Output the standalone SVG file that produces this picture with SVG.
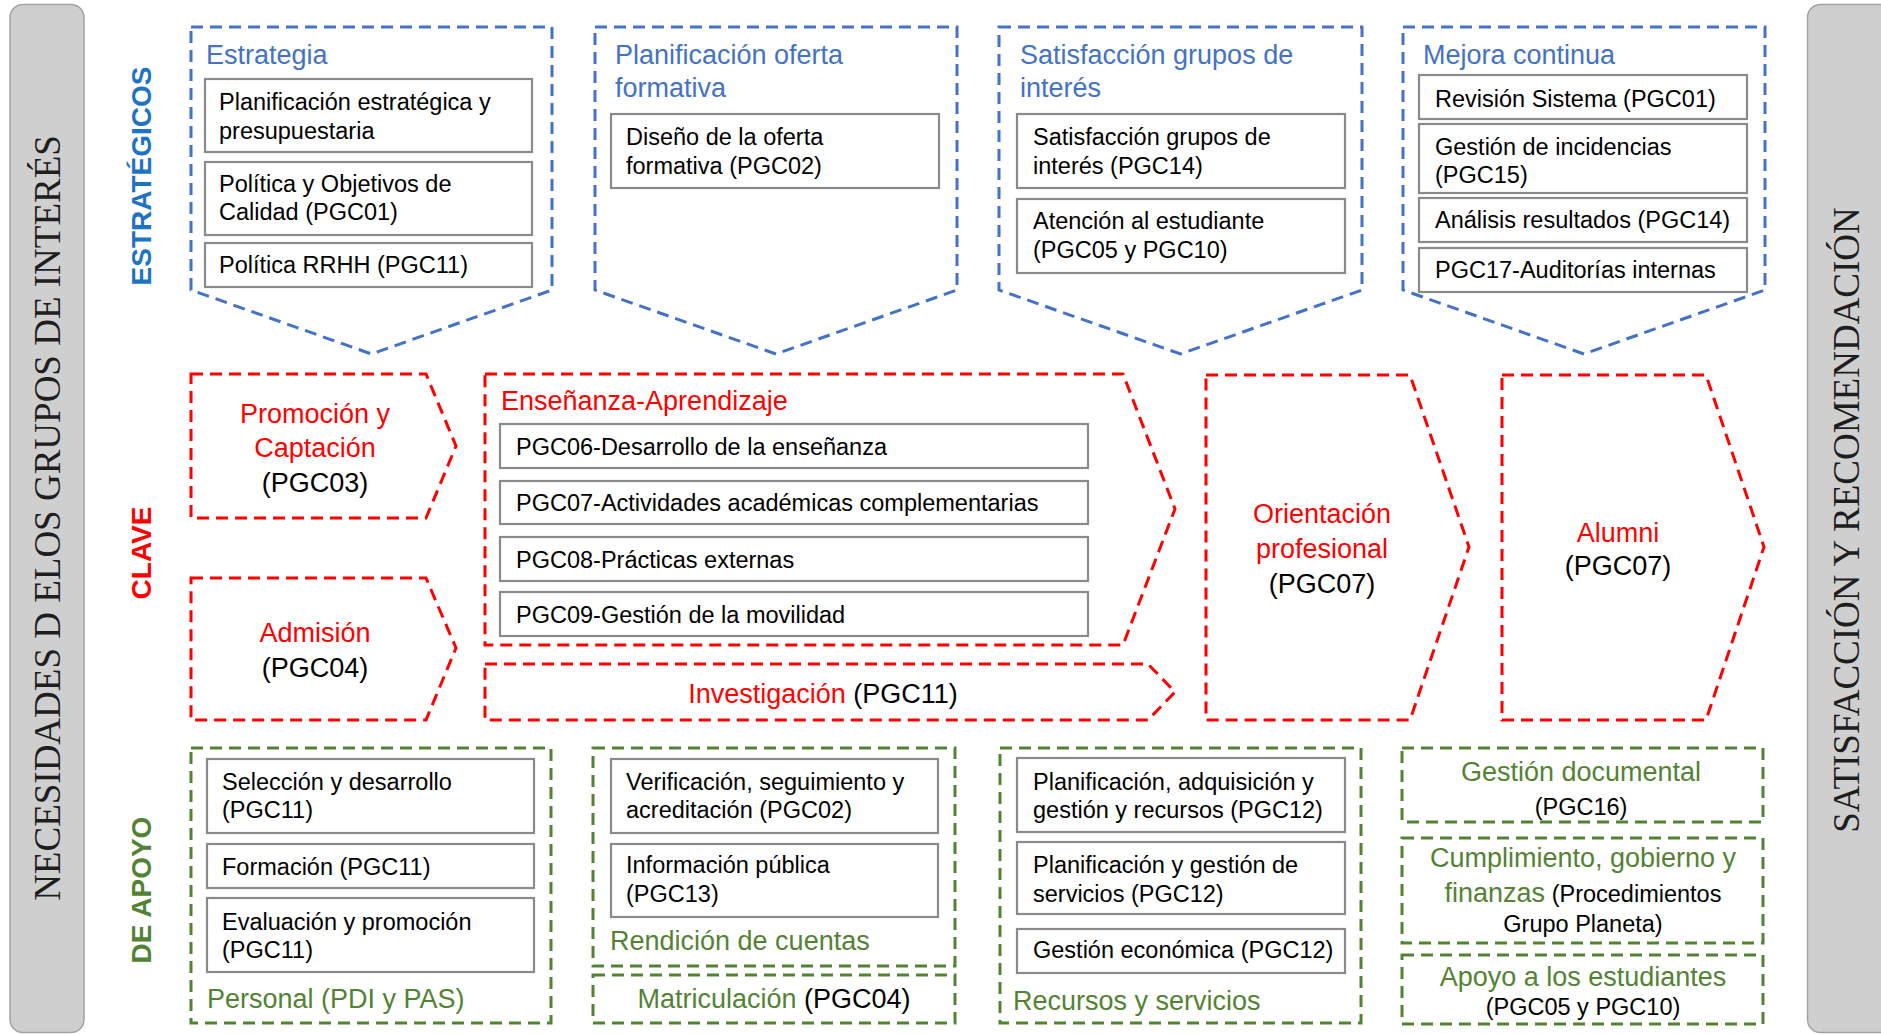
<svg xmlns="http://www.w3.org/2000/svg" width="1881" height="1034" viewBox="0 0 1881 1034">
<style>
text{font-family:"Liberation Sans",Arial,sans-serif;fill:#000}
.t{font-size:23.5px}
.h{font-size:27px}
.s{font-size:23.5px}
.mid{text-anchor:middle}
.blue{fill:#4472C4}
.red{fill:#FF0000}
.green{fill:#548235}
.blk{fill:#000}
.bd{fill:#fff;stroke:#4472C4;stroke-width:3;stroke-dasharray:12 7}
.rd{fill:#fff;stroke:#FF0000;stroke-width:3;stroke-dasharray:12 7}
.gd{fill:#fff;stroke:#548235;stroke-width:3;stroke-dasharray:12 7}
.ib{fill:#fff;stroke:#8A8A8A;stroke-width:2.2}
.bar{fill:#CFCFCF;stroke:#A3A3A3;stroke-width:1.5}
.serif{font-family:"Liberation Serif","Times New Roman",serif;font-size:37px;fill:#1E1E1E;text-anchor:middle}
.lab{font-family:"Liberation Sans",Arial,sans-serif;font-weight:bold;font-size:28px;text-anchor:middle}
</style>
<rect width="1881" height="1034" fill="#fff"/>

<g id="bar-left">
<rect class="bar" x="10" y="4.5" width="74" height="1028" rx="13"/>
<text class="serif" transform="translate(60,518) rotate(-90)">NECESIDADES D ELOS GRUPOS DE INTERÉS</text>
</g>
<g id="bar-right">
<rect class="bar" x="1807.5" y="4.5" width="90" height="1028" rx="13"/>
<text class="serif" transform="translate(1859,520) rotate(-90)">SATISFACCIÓN Y RECOMENDACIÓN</text>
</g>

<g id="row-labels">
<text class="lab" fill="#1F73C4" style="fill:#1F73C4" transform="translate(151,176) rotate(-90)">ESTRATÉGICOS</text>
<text class="lab" style="fill:#FF0000" transform="translate(151,553) rotate(-90)">CLAVE</text>
<text class="lab" style="fill:#548235" transform="translate(151,890) rotate(-90)">DE APOYO</text>
</g>

<g id="estrategia">
<path class="bd" d="M191,27 H552 V290 L371.5,354 L191,290 Z"/>
<text class="h blue" x="206" y="64">Estrategia</text>
<rect class="ib" x="205" y="79" width="327" height="73"/>
<text class="t" x="219" y="110">Planificación estratégica y</text>
<text class="t" x="219" y="139">presupuestaria</text>
<rect class="ib" x="205" y="162" width="327" height="73"/>
<text class="t" x="219" y="192">Política y Objetivos de</text>
<text class="t" x="219" y="220">Calidad (PGC01)</text>
<rect class="ib" x="205" y="243" width="327" height="44"/>
<text class="t" x="219" y="273">Política RRHH (PGC11)</text>
</g>

<g id="planificacion-oferta">
<path class="bd" d="M595,27 H957 V290 L776,354 L595,290 Z"/>
<text class="h blue" x="615" y="64">Planificación oferta</text>
<text class="h blue" x="615" y="97">formativa</text>
<rect class="ib" x="611" y="114" width="328" height="74"/>
<text class="t" x="626" y="145">Diseño de la oferta</text>
<text class="t" x="626" y="174">formativa (PGC02)</text>
</g>

<g id="satisfaccion">
<path class="bd" d="M999,27 H1362 V290 L1180.5,354 L999,290 Z"/>
<text class="h blue" x="1020" y="64">Satisfacción grupos de</text>
<text class="h blue" x="1020" y="97">interés</text>
<rect class="ib" x="1017" y="114" width="328" height="74"/>
<text class="t" x="1033" y="145">Satisfacción grupos de</text>
<text class="t" x="1033" y="174">interés (PGC14)</text>
<rect class="ib" x="1017" y="199" width="328" height="74"/>
<text class="t" x="1033" y="229">Atención al estudiante</text>
<text class="t" x="1033" y="258">(PGC05 y PGC10)</text>
</g>

<g id="mejora-continua">
<path class="bd" d="M1403,27 H1765 V290 L1584,354 L1403,290 Z"/>
<text class="h blue" x="1423" y="64">Mejora continua</text>
<rect class="ib" x="1419" y="75" width="328" height="44"/>
<text class="t" x="1435" y="107">Revisión Sistema (PGC01)</text>
<rect class="ib" x="1419" y="124" width="328" height="69"/>
<text class="t" x="1435" y="155">Gestión de incidencias</text>
<text class="t" x="1435" y="183">(PGC15)</text>
<rect class="ib" x="1419" y="198" width="328" height="44"/>
<text class="t" x="1435" y="228">Análisis resultados (PGC14)</text>
<rect class="ib" x="1419" y="248" width="328" height="44"/>
<text class="t" x="1435" y="278">PGC17-Auditorías internas</text>
</g>

<g id="promocion">
<path class="rd" d="M191,374 H426 L456,446 L426,518 H191 Z"/>
<text class="h red mid" x="315" y="423">Promoción y</text>
<text class="h red mid" x="315" y="457">Captación</text>
<text class="h mid" x="315" y="492">(PGC03)</text>
</g>

<g id="admision">
<path class="rd" d="M191,578 H426 L456,648 L426,720 H191 Z"/>
<text class="h red mid" x="315" y="642">Admisión</text>
<text class="h mid" x="315" y="677">(PGC04)</text>
</g>

<g id="ensenanza">
<path class="rd" d="M485,374 H1123 L1175,509 L1123,645 H485 Z"/>
<text class="h red" x="501" y="410">Enseñanza-Aprendizaje</text>
<rect class="ib" x="500" y="424" width="588" height="44"/>
<text class="t" x="516" y="455">PGC06-Desarrollo de la enseñanza</text>
<rect class="ib" x="500" y="481" width="588" height="43"/>
<text class="t" x="516" y="511">PGC07-Actividades académicas complementarias</text>
<rect class="ib" x="500" y="537" width="588" height="44"/>
<text class="t" x="516" y="568">PGC08-Prácticas externas</text>
<rect class="ib" x="500" y="592" width="588" height="44"/>
<text class="t" x="516" y="623">PGC09-Gestión de la movilidad</text>
</g>

<g id="investigacion">
<path class="rd" d="M485,664 H1148 L1175,692 L1148,720 H485 Z"/>
<text class="h mid" x="823" y="703"><tspan class="red">Investigación</tspan> (PGC11)</text>
</g>

<g id="orientacion">
<path class="rd" d="M1206,375 H1410 L1469,547 L1410,720 H1206 Z"/>
<text class="h red mid" x="1322" y="523">Orientación</text>
<text class="h red mid" x="1322" y="558">profesional</text>
<text class="h mid" x="1322" y="593">(PGC07)</text>
</g>

<g id="alumni">
<path class="rd" d="M1502,375 H1706 L1764,547 L1706,720 H1502 Z"/>
<text class="h red mid" x="1618" y="542">Alumni</text>
<text class="h mid" x="1618" y="575">(PGC07)</text>
</g>

<g id="personal">
<rect class="gd" x="191" y="748" width="360" height="275"/>
<rect class="ib" x="207" y="759" width="327" height="74"/>
<text class="t" x="222" y="790">Selección y desarrollo</text>
<text class="t" x="222" y="818">(PGC11)</text>
<rect class="ib" x="207" y="844" width="327" height="44"/>
<text class="t" x="222" y="875">Formación (PGC11)</text>
<rect class="ib" x="207" y="898" width="327" height="74"/>
<text class="t" x="222" y="930">Evaluación y promoción</text>
<text class="t" x="222" y="958">(PGC11)</text>
<text class="h green" x="207" y="1008">Personal (PDI y PAS)</text>
</g>

<g id="rendicion">
<rect class="gd" x="593" y="748" width="362" height="218"/>
<rect class="ib" x="611" y="759" width="327" height="74"/>
<text class="t" x="626" y="790">Verificación, seguimiento y</text>
<text class="t" x="626" y="818">acreditación (PGC02)</text>
<rect class="ib" x="611" y="844" width="327" height="73"/>
<text class="t" x="626" y="873">Información pública</text>
<text class="t" x="626" y="902">(PGC13)</text>
<text class="h green" x="610" y="950">Rendición de cuentas</text>
</g>

<g id="matriculacion">
<rect class="gd" x="593" y="975" width="362" height="48"/>
<text class="h mid" x="774" y="1008"><tspan class="green">Matriculación</tspan> (PGC04)</text>
</g>

<g id="recursos">
<rect class="gd" x="1000" y="748" width="361" height="275"/>
<rect class="ib" x="1017" y="758" width="328" height="74"/>
<text class="t" x="1033" y="790">Planificación, adquisición y</text>
<text class="t" x="1033" y="818">gestión y recursos (PGC12)</text>
<rect class="ib" x="1017" y="842" width="328" height="72"/>
<text class="t" x="1033" y="873">Planificación y gestión de</text>
<text class="t" x="1033" y="902">servicios (PGC12)</text>
<rect class="ib" x="1017" y="929" width="328" height="44"/>
<text class="t" x="1033" y="958">Gestión económica (PGC12)</text>
<text class="h green" x="1013" y="1010">Recursos y servicios</text>
</g>

<g id="gestion-documental">
<rect class="gd" x="1402" y="748" width="361" height="74"/>
<text class="h green mid" x="1581" y="781">Gestión documental</text>
<text class="s mid" x="1581" y="815">(PGC16)</text>
</g>

<g id="cumplimiento">
<rect class="gd" x="1402" y="838" width="361" height="105"/>
<text class="h green mid" x="1583" y="867">Cumplimiento, gobierno y</text>
<text class="h mid" x="1583" y="902"><tspan class="green">finanzas</tspan><tspan class="s"> (Procedimientos</tspan></text>
<text class="s mid" x="1583" y="932">Grupo Planeta)</text>
</g>

<g id="apoyo-estudiantes">
<rect class="gd" x="1402" y="955" width="361" height="69"/>
<text class="h green mid" x="1583" y="986">Apoyo a los estudiantes</text>
<text class="s mid" x="1583" y="1015">(PGC05 y PGC10)</text>
</g>

<g id="connectors"></g>
</svg>
